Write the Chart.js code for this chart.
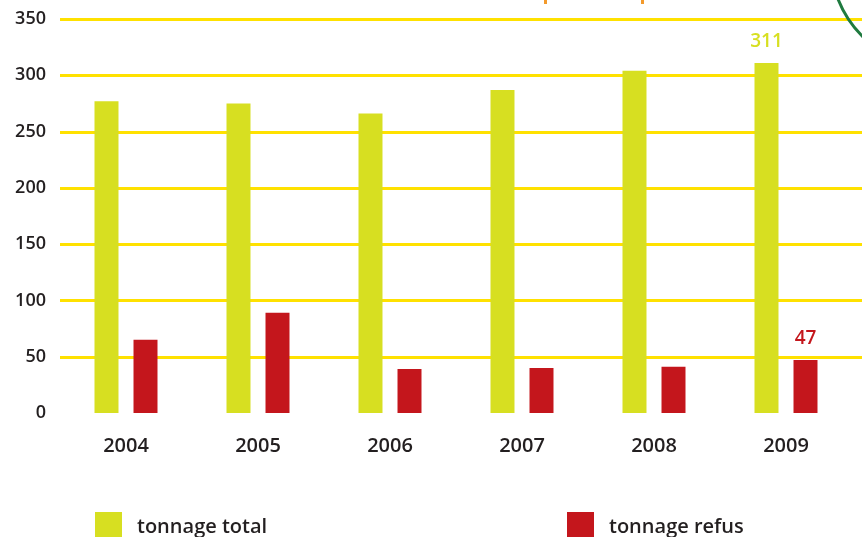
<!DOCTYPE html>
<html>
<head>
<meta charset="utf-8">
<script src="https://cdn.jsdelivr.net/npm/chart.js@4.4.1/dist/chart.umd.min.js"></script>
<style>
    html, body { margin: 0; padding: 0; background: #fff; }
    #wrap { position: relative; width: 862px; height: 537px; overflow: hidden; }
</style>
</head>
<body>
<div id="wrap"><canvas id="barChart" width="862" height="537"></canvas></div>
<script>
const years = ['2004', '2005', '2006', '2007', '2008', '2009'];
const tonnageTotal = [277, 275, 266, 287, 304, 311];
const tonnageRefus = [65, 89, 39, 40, 41, 47];
const yTicks = [0, 50, 100, 150, 200, 250, 300, 350];

const FONT = "'Open Sans', 'DejaVu Sans', sans-serif";
const TEXT = '#231f20';
const GRID = '#ffe100';
const YELLOW = '#d7df21';
const RED = '#c4161c';

// Function to draw the horizontal grid lines out to the right edge
const gridPlugin = {
    id: 'gridLines',
    beforeDatasetsDraw(chart) {
        const { ctx, scales: { y }, chartArea } = chart;
        ctx.save();
        ctx.strokeStyle = GRID;
        ctx.lineWidth = 3;
        yTicks.forEach(v => {
            if (v === 0) return;
            const py = Math.round(y.getPixelForValue(v)) + 0.5;
            ctx.beginPath();
            ctx.moveTo(chartArea.left, py);
            ctx.lineTo(chart.width, py);
            ctx.stroke();
        });
        ctx.restore();
    }
};

// Function to write the last year's values above the bars
const lastValuePlugin = {
    id: 'lastValue',
    afterDatasetsDraw(chart) {
        const { ctx } = chart;
        const last = years.length - 1;
        ctx.save();
        ctx.font = `600 19px ${FONT}`;
        ctx.textAlign = 'center';
        ctx.textBaseline = 'bottom';
        chart.data.datasets.forEach((ds, i) => {
            const bar = chart.getDatasetMeta(i).data[last];
            ctx.fillStyle = ds.backgroundColor;
            ctx.fillText(ds.data[last], bar.x, bar.y - 12);
        });
        ctx.restore();
    }
};

// Function to draw the legend and the decorations cut off at the top
const legendPlugin = {
    id: 'bottomLegend',
    afterDraw(chart) {
        const { ctx } = chart;
        const spots = [95, 567];
        ctx.save();
        chart.data.datasets.forEach((ds, i) => {
            ctx.fillStyle = ds.backgroundColor;
            ctx.fillRect(spots[i], 512, 27, 27);
            ctx.fillStyle = TEXT;
            ctx.font = `600 20px ${FONT}`;
            ctx.textBaseline = 'alphabetic';
            ctx.fillText(ds.label, spots[i] + 42, 533);
        });

        // orange title descenders and green arc
        ctx.fillStyle = '#f39a2b';
        ctx.fillRect(544, 0, 3, 4);
        ctx.fillRect(641, 0, 3, 4);
        ctx.strokeStyle = '#1f7a3f';
        ctx.lineWidth = 3;
        ctx.beginPath();
        ctx.moveTo(838, -1);
        ctx.quadraticCurveTo(846, 20, 863, 37);
        ctx.stroke();
        ctx.restore();
    }
};

const barChart = new Chart(document.getElementById('barChart'), {
    type: 'bar',
    data: {
        labels: years,
        datasets: [
            { label: 'tonnage total', data: tonnageTotal, backgroundColor: YELLOW },
            { label: 'tonnage refus', data: tonnageRefus, backgroundColor: RED }
        ]
    },
    options: {
        responsive: false,
        animation: false,
        devicePixelRatio: 1,
        layout: { padding: { top: 19, right: 10, left: 0, bottom: 0 } },
        datasets: {
            bar: { categoryPercentage: 0.591, barPercentage: 0.615 }
        },
        plugins: {
            legend: { display: false },
            tooltip: { enabled: false }
        },
        scales: {
            x: {
                grid: { display: false, drawTicks: false },
                border: { display: false },
                ticks: {
                    color: TEXT,
                    font: { family: FONT, size: 20, weight: '600' },
                    padding: 21
                },
                afterFit: s => { s.height = 124; s.paddingLeft = 0; s.paddingRight = 0; }
            },
            y: {
                min: 0,
                max: 350,
                afterBuildTicks: s => { s.ticks = yTicks.map(v => ({ value: v })); },
                grid: { display: false, drawTicks: false },
                border: { display: false },
                ticks: {
                    color: TEXT,
                    font: { family: FONT, size: 18, weight: '600' },
                    padding: 14
                },
                afterFit: s => { s.width = 60; s.paddingTop = 0; s.paddingBottom = 0; }
            }
        }
    },
    plugins: [gridPlugin, lastValuePlugin, legendPlugin]
});
</script>
</body>
</html>
